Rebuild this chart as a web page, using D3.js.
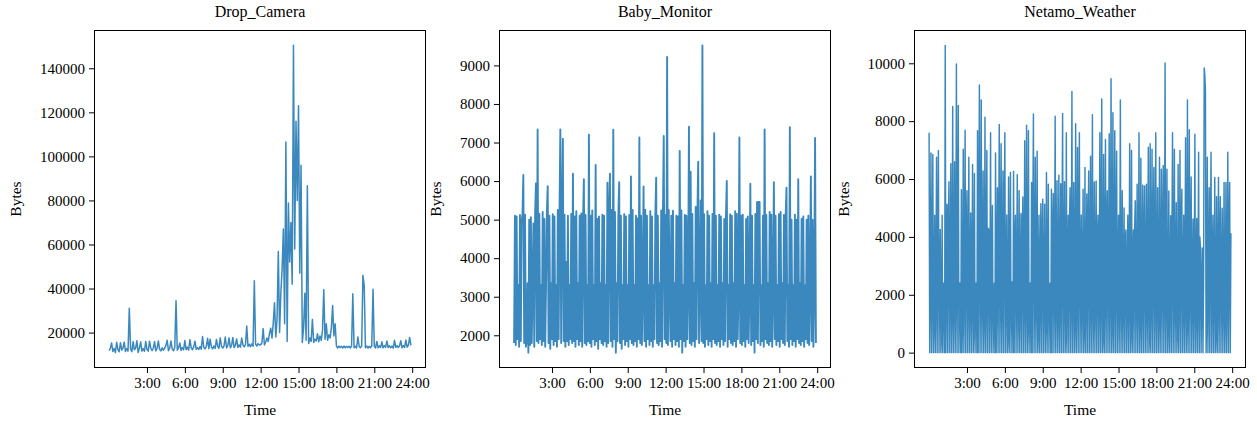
<!DOCTYPE html>
<html>
<head>
<meta charset="utf-8">
<title>IoT device traffic</title>
<script src="https://d3js.org/d3.v7.min.js"></script>
<style>
  body { margin: 0; background: #fff; }
  svg text { font-family: "Liberation Serif", "Times New Roman", serif; fill: #000; }
</style>
</head>
<body>
<svg id="chart" width="1257" height="421"></svg>
<script>
// ---- data (bytes per sample, one sample every 6 / 4 / ~3 min over the day) ----
const panelTitles = ["Drop_Camera", "Baby_Monitor", "Netamo_Weather"];
const hourTicks = [3, 6, 9, 12, 15, 18, 21, 24];
const hourLabels = ["3:00", "6:00", "9:00", "12:00", "15:00", "18:00", "21:00", "24:00"];

const dropTicks = [20000, 40000, 60000, 80000, 100000, 120000, 140000];
const babyTicks = [2000, 3000, 4000, 5000, 6000, 7000, 8000, 9000];
const netamoTicks = [0, 2000, 4000, 6000, 8000, 10000];

// first and last sample, in hours
const dayStart = 0, dayEnd = 23.9;

const dropCamera = [
  11800, 12900, 15300, 11400, 12800, 10900, 15600, 12300, 11300, 15400,
  12100, 13000, 15700, 11400, 12800, 11600, 31000, 12700, 11300, 15900,
  12200, 13000, 16300, 11000, 12900, 15800, 11600, 12800, 11500, 16000,
  12300, 11600, 16100, 13000, 11800, 12900, 15900, 11700, 13000, 16200,
  12400, 11700, 13100, 12000, 12900, 14200, 16500, 11800, 13000, 16200,
  12500, 11800, 13200, 34500, 12000, 13100, 15300, 11900, 13200, 12200,
  16400, 12300, 13400, 12000, 16800, 13200, 12200, 13500, 16100, 12400,
  13200, 12300, 13700, 12500, 18200, 13300, 12600, 13800, 17400, 12700,
  17000, 13500, 12600, 13900, 12800, 16900, 13700, 12800, 17600, 13800,
  13000, 14000, 18000, 13000, 14100, 17600, 13100, 14200, 17800, 13200,
  14200, 17100, 13300, 14400, 13400, 17500, 14400, 13500, 14600, 23000,
  13700, 14700, 13600, 14900, 13800, 43500, 14800, 13900, 15000, 14300,
  14500, 15300, 21800, 14400, 15700, 17500, 16000, 19500, 22000, 17500,
  24500, 33600, 18000, 26000, 56800, 20000, 38000, 48800, 67000, 24000,
  106500, 16000, 78800, 52000, 70000, 42000, 150400, 58000, 116000, 80000,
  123000, 47000, 96000, 15500, 22000, 37900, 16500, 86700, 15000, 17500,
  16000, 26000, 15500, 17000, 16200, 19500, 15800, 18500, 16500, 21000,
  39500, 17000, 24000, 16500, 19000, 17500, 22000, 32300, 18500, 24000,
  14000, 13000, 13900, 13200, 13800, 13000, 13900, 13100, 13800, 13200,
  13800, 13000, 13900, 37600, 13100, 13800, 13000, 18000, 13800, 13100,
  13900, 46000, 41500, 13100, 13900, 13000, 13800, 13100, 14000, 39700,
  13800, 13000, 16000, 13100, 14000, 13200, 15800, 13100, 14100, 13300,
  16200, 13200, 14000, 13100, 13900, 13000, 16500, 13300, 14100, 13200,
  14000, 16300, 13100, 14100, 13300, 16600, 13400, 14200, 17800, 14200
];

const babyMonitor = [
  1800, 5100, 1750, 5080, 1900, 3300, 1700, 5120, 1850, 4950, 5150, 6160, 1800, 5130, 1700,
  1850, 3350, 1550, 5000, 1750, 5060, 1800, 3300, 4900, 1700, 5140, 5940, 1850, 7340, 1800,
  5150, 1900, 3300, 1750, 5200, 1850, 5020, 1700, 3300, 5180, 5870, 1800, 5100, 1650, 3350,
  1900, 5140, 1750, 5080, 1850, 3300, 1700, 5250, 1900, 5120, 7340, 1800, 5000, 7100, 1850,
  5130, 1700, 3900, 1850, 5100, 1750, 3300, 1900, 5150, 1800, 6190, 1850, 5080, 1700, 5220,
  1900, 3350, 1750, 5100, 1850, 5160, 1700, 4950, 6050, 1800, 5120, 1750, 3300, 1850, 7200,
  1800, 5100, 1700, 5240, 1900, 3300, 1750, 6420, 1850, 5020, 1650, 5080, 1900, 3350, 1800,
  5130, 1750, 5100, 1850, 3300, 1700, 5960, 1800, 5150, 6190, 1850, 5250, 1700, 7330, 1900,
  5200, 1550, 3350, 1850, 5120, 5970, 1800, 5100, 1650, 3300, 1900, 5140, 1750, 5080, 1850,
  3300, 1700, 5120, 1900, 6120, 1800, 5250, 1750, 3300, 1850, 5100, 1700, 5030, 1900, 7130,
  1800, 5100, 1750, 3350, 5860, 1850, 5260, 1700, 5100, 1900, 3300, 1750, 5220, 1850, 5080,
  1700, 3300, 1900, 5120, 6090, 1800, 5100, 1750, 3350, 1850, 5240, 1700, 5090, 7170, 1900,
  5120, 1800, 9220, 1750, 5250, 3300, 1850, 5100, 1700, 5230, 1900, 3350, 1750, 5100, 1850,
  5080, 1700, 6780, 1900, 5240, 1550, 3300, 1850, 5120, 1700, 5100, 1900, 3300, 7410, 1800,
  6240, 1750, 5150, 1850, 3350, 1700, 5330, 1900, 5100, 6500, 1800, 3300, 5500, 1850, 9520,
  1800, 5140, 1700, 3300, 1900, 5220, 1750, 5100, 1850, 3350, 1700, 5150, 1900, 7240, 1800,
  5100, 1750, 3300, 1850, 5130, 1700, 5080, 1900, 3350, 1750, 5020, 1850, 5100, 6000, 1700,
  3300, 1900, 5140, 1800, 5100, 1750, 3350, 1850, 5220, 1700, 5150, 1900, 3300, 7130, 1800,
  5100, 1750, 5130, 1850, 3300, 1700, 5020, 1900, 5080, 1800, 3350, 5930, 1750, 5100, 1850,
  3300, 1550, 5150, 1900, 5460, 1800, 5460, 5460, 1750, 3300, 1850, 5100, 1700, 7340, 1900,
  5120, 1800, 3350, 1750, 5200, 1850, 5130, 1700, 3300, 5970, 1900, 5100, 1750, 3300, 1850,
  5140, 1700, 5200, 1900, 3350, 1800, 5120, 1750, 5080, 5830, 1850, 3300, 1700, 7400, 1900,
  5000, 1750, 3300, 1850, 5130, 1700, 5000, 1900, 6050, 1800, 3350, 1750, 5020, 1850, 5080,
  1700, 3300, 1900, 5000, 1800, 5100, 1750, 3350, 6120, 1850, 5000, 1700, 3300, 7120, 1800
];

const netamoWeather = [
  7600, 0, 2400, 6900, 0, 2450, 6850, 0, 1300, 4750, 0, 2400, 6750, 0, 3900, 6990, 0, 2400,
  4260, 0, 600, 4750, 0, 2400, 2400, 0, 10620, 0, 2350, 5130, 0, 4400,
  5910, 0, 2400, 6530, 0, 1800, 8510, 0, 2400, 6600, 0, 2450, 9980, 0, 3700, 8540, 0, 2400,
  2400, 0, 5630, 0, 1200, 7030, 0, 2400, 7690, 0, 4200, 5600, 0, 2400,
  6750, 0, 2350, 4830, 0, 2400, 6500, 0, 900, 6190, 0, 2400, 2400, 0, 7670, 0, 3900,
  9250, 0, 2400, 8730, 0, 2450, 6280, 0, 1500, 8140, 0, 2400, 6990, 0, 4300,
  4260, 0, 2400, 7600, 0, 2400, 5090, 0, 1100, 2400, 0, 6900, 0, 2400, 5700, 0, 3600,
  7890, 0, 2400, 7220, 0, 2350, 6280, 0, 4500, 7600, 0, 2400, 4760, 0, 700,
  6070, 0, 2400, 6230, 0, 2450, 2400, 0, 6260, 0, 3800, 4750, 0, 2400, 6150, 0, 1600,
  5600, 0, 2400, 4810, 0, 4100, 5380, 0, 2400, 7320, 0, 2350, 7860, 0, 1200,
  7670, 0, 2400, 2400, 0, 5880, 0, 4400, 8250, 0, 2400, 6750, 0, 2450, 6960, 0, 800,
  4750, 0, 2400, 5150, 0, 3900, 5300, 0, 2400, 5130, 0, 1400, 6230, 0, 2400,
  5820, 0, 2350, 2400, 0, 5650, 0, 4200, 5500, 0, 2400, 8170, 0, 2400, 5940, 0, 1700,
  6130, 0, 2450, 5840, 0, 3700, 8270, 0, 2400, 5910, 0, 600, 7600, 0, 2400,
  4750, 0, 4300, 5700, 0, 2400, 9030, 0, 2400, 5880, 0, 1300, 7910, 0, 2350,
  7090, 0, 3900, 7600, 0, 2400, 4760, 0, 2450, 5650, 0, 1000, 6400, 0, 2400,
  5480, 0, 4100, 6280, 0, 2400, 6790, 0, 2400, 8220, 0, 1500, 5900, 0, 2400,
  5930, 0, 3800, 4750, 0, 2350, 7600, 0, 2400, 8770, 0, 700, 6850, 0, 2400,
  7370, 0, 4400, 5600, 0, 2400, 7570, 0, 2450, 9470, 0, 1200, 8290, 0, 2400,
  7670, 0, 3600, 6960, 0, 2400, 4750, 0, 2400, 8730, 0, 1800, 5600, 0, 2350,
  5000, 0, 4000, 4240, 0, 2400, 4750, 0, 2400, 7220, 0, 900, 6990, 0, 2400,
  4240, 0, 4300, 5250, 0, 2450, 5820, 0, 2400, 7600, 0, 1400, 6720, 0, 2400,
  5790, 0, 3900, 5760, 0, 2400, 5820, 0, 2350, 7100, 0, 600, 7220, 0, 2400,
  7030, 0, 4200, 6400, 0, 2400, 7600, 0, 2400, 5700, 0, 1600, 6750, 0, 2450,
  6340, 0, 3800, 6470, 0, 2400, 10010, 0, 2400, 6340, 0, 1100, 5590, 0, 2400,
  4730, 0, 4100, 7600, 0, 2350, 7030, 0, 2400, 5180, 0, 800, 6500, 0, 2400,
  6990, 0, 4400, 5650, 0, 2400, 4750, 0, 2450, 7430, 0, 1300, 8730, 0, 2400,
  7700, 0, 3700, 6070, 0, 2400, 4620, 0, 2400, 7550, 0, 1900, 4640, 0, 2350,
  6930, 0, 4000, 3620, 0, 2400, 3620, 0, 2400, 9840, 9590, 9030, 0, 1200,
  6750, 0, 2400, 5700, 0, 4300, 6930, 0, 2450, 4750, 0, 2400,
  6050, 0, 700, 5390, 0, 2400, 6050, 0, 3900, 5390, 0, 2400, 4990, 0, 2350,
  5880, 0, 1500, 5880, 0, 2400, 6930, 0, 4200, 5880, 0, 4130
];

const series = [dropCamera, babyMonitor, netamoWeather];
const yTickSets = [dropTicks, babyTicks, netamoTicks];

// ---- layout ----
const plotTop = 30, plotBottom = 368;
const boxes = [[94, 426], [499, 831], [914, 1246]];
const lineWidths = [1.5, 1.9, 1.45];
const lineColor = "#1f77b4";

const svg = d3.select("#chart");

series.forEach((values, p) => {
  const [x0, x1] = boxes[p];
  const g = svg.append("g");

  // matplotlib-style 5% margins
  const xPad = 0.05 * (dayEnd - dayStart);
  const xScale = d3.scaleLinear()
    .domain([dayStart - xPad, dayEnd + xPad])
    .range([x0, x1]);

  const [vMin, vMax] = d3.extent(values);
  const yPad = 0.05 * (vMax - vMin);
  const yScale = d3.scaleLinear()
    .domain([vMin - yPad, vMax + yPad])
    .range([plotBottom, plotTop]);

  const step = (dayEnd - dayStart) / (values.length - 1);
  const line = d3.line()
    .x((d, i) => xScale(dayStart + i * step))
    .y(d => yScale(d));

  g.append("clipPath").attr("id", "clip" + p)
    .append("rect")
    .attr("x", x0).attr("y", plotTop)
    .attr("width", x1 - x0).attr("height", plotBottom - plotTop);

  g.append("path")
    .datum(values)
    .attr("clip-path", `url(#clip${p})`)
    .attr("fill", "none")
    .attr("stroke", lineColor)
    .attr("stroke-width", lineWidths[p])
    .attr("stroke-opacity", 0.88)
    .attr("stroke-linejoin", "round")
    .attr("d", line);

  // frame
  g.append("rect")
    .attr("x", x0 + 0.5).attr("y", plotTop + 0.5)
    .attr("width", x1 - x0 - 1).attr("height", plotBottom - plotTop - 1)
    .attr("fill", "none")
    .attr("stroke", "#000")
    .attr("stroke-width", 1);

  /* Axes */
  const xAxis = d3.axisBottom(xScale)
    .tickValues(hourTicks)
    .tickFormat((d, i) => hourLabels[i])
    .tickSize(5)
    .tickPadding(4);
  const yAxis = d3.axisLeft(yScale)
    .tickValues(yTickSets[p])
    .tickFormat(d3.format("d"))
    .tickSize(5)
    .tickPadding(4);

  const gx = g.append("g")
    .attr("transform", `translate(0,${plotBottom})`)
    .call(xAxis);
  const gy = g.append("g")
    .attr("transform", `translate(${x0},0)`)
    .call(yAxis);

  [gx, gy].forEach(ax => {
    ax.select(".domain").remove();
    ax.selectAll("line").attr("stroke", "#000");
    ax.selectAll("text").style("font-size", "15px");
  });

  // titles and labels
  const cx = (x0 + x1) / 2;
  g.append("text")
    .attr("x", cx).attr("y", 17)
    .attr("text-anchor", "middle")
    .style("font-size", "16px")
    .text(panelTitles[p]);

  g.append("text")
    .attr("x", cx).attr("y", 415)
    .attr("text-anchor", "middle")
    .style("font-size", "15.5px")
    .text("Time");

  // y label sits just left of the widest tick label
  const labelLeft = x0 + gy.node().getBBox().x;
  g.append("text")
    .attr("transform", `translate(${labelLeft - 19},${(plotTop + plotBottom) / 2}) rotate(-90)`)
    .attr("text-anchor", "middle")
    .style("font-size", "15.5px")
    .text("Bytes");
});
</script>
</body>
</html>
